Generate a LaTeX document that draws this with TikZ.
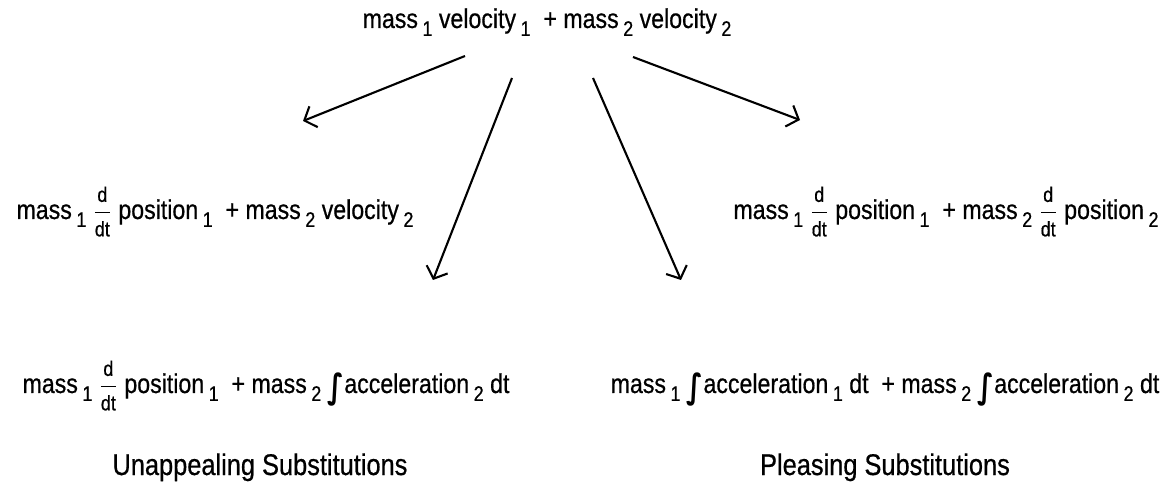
\documentclass[tikz,border=0pt]{standalone}
\usepackage{amsmath}
\usepackage{fontspec}
\setmainfont{Liberation Sans}[FakeStretch=0.85, FakeBold=0.6]
\newfontfamily\intfont{DejaVu Sans}
\usetikzlibrary{arrows.meta}
\newcommand{\idx}[1]{\,\raisebox{-0.55ex}{\fontsize{12}{12}\selectfont #1}}
\newcommand{\ddt}{$\genfrac{}{}{0.8pt}{0}{\text{\fontsize{12}{12}\selectfont d}}{\text{\fontsize{12}{12}\selectfont dt}}$}
\newcommand{\intg}{\raisebox{-0.35ex}{\scalebox{1}[1.25]{\intfont\bfseries ∫}}}
\tikzset{
  eqn/.style={anchor=base, inner sep=0pt, font=\fontsize{15.5}{18}\selectfont},
  caption/.style={anchor=base, inner sep=0pt, font=\fontsize{17}{20}\selectfont},
  arr/.style={-{Straight Barb[length=2mm, width=4.5mm]}, line width=1.2pt},
}
\begin{document}
\begin{tikzpicture}[x=0.02cm, y=-0.02cm]
    \useasboundingbox (0,0) rectangle (1167,493);
    % formulas
    \node[eqn] (top) at (547,28) {mass\idx{1} velocity\idx{1} \ + mass\idx{2} velocity\idx{2}};
    \node[eqn] (left) at (215,219) {mass\idx{1} \ddt\ position\idx{1} \ + mass\idx{2} velocity\idx{2}};
    \node[eqn] (right) at (946,219) {mass\idx{1} \ddt\ position\idx{1} \ + mass\idx{2} \ddt\ position\idx{2}};
    \node[eqn] (botleft) at (266,393) {mass\idx{1} \ddt\ position\idx{1} \ + mass\idx{2} \intg acceleration\idx{2} dt};
    \node[eqn] (botright) at (885,393) {mass\idx{1} \intg acceleration\idx{1} dt \ + mass\idx{2} \intg acceleration\idx{2} dt};
    % captions
    \node[caption] (unpl) at (260,475) {Unappealing Substitutions};
    \node[caption] (pls) at (885,475) {Pleasing Substitutions};
    % arrow ends
    \coordinate (sA) at (465,56);
    \coordinate (tA) at (303,121);
    \coordinate (sB) at (512,78);
    \coordinate (tB) at (433,280);
    \coordinate (sC) at (593,78);
    \coordinate (tC) at (681,280);
    \coordinate (sD) at (633,57);
    \coordinate (tD) at (800,120);
    \draw[arr] (sA) -- (tA);
    \draw[arr] (sB) -- (tB);
    \draw[arr] (sC) -- (tC);
    \draw[arr] (sD) -- (tD);
\end{tikzpicture}
\end{document}
